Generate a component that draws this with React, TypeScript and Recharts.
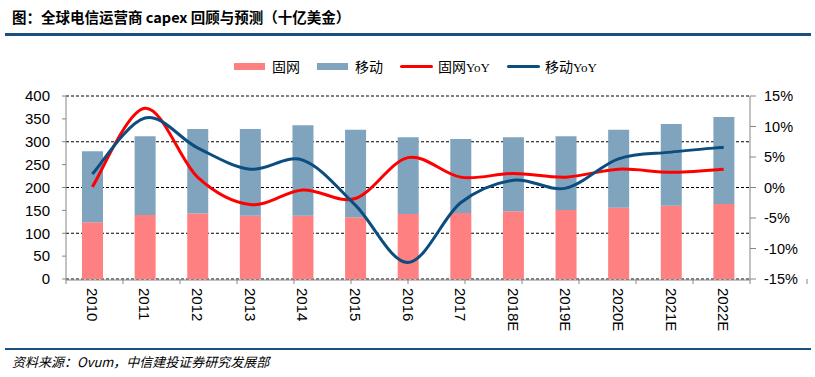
import React from "react";
import { ComposedChart, Bar, Line, XAxis, YAxis, CartesianGrid } from "recharts";

const years = ["2010", "2011", "2012", "2013", "2014", "2015", "2016", "2017", "2018E", "2019E", "2020E", "2021E", "2022E"];
const fixedCapex = [124, 140, 143, 138, 138, 135, 142, 144, 148, 151, 156, 160, 164];
const mobileCapex = [155, 172, 185, 190, 198, 191, 168, 162, 162, 161, 170, 179, 190];
const fixedYoY = [0.1, 13.0, 1.7, -2.8, -0.4, -1.8, 4.9, 1.7, 2.3, 1.7, 3.0, 2.5, 3.0];
const mobileYoY = [2.2, 11.4, 6.5, 3.0, 4.5, -2.9, -12.3, -2.5, 1.2, -0.1, 4.7, 5.8, 6.6];
const leftTicks = [0, 50, 100, 150, 200, 250, 300, 350, 400];
const rightTicks = [-15, -10, -5, 0, 5, 10, 15];
const edgeTicks = years.map((_, i) => i).concat([years.length]);

const data = years.map((y, i) => ({
  year: y,
  fixed: fixedCapex[i],
  mobile: mobileCapex[i],
  fixedYoY: fixedYoY[i],
  mobileYoY: mobileYoY[i],
}));

// Excel-like smoothed line (Catmull-Rom through points)
function smoothCurve(context: any) {
  let pts: [number, number][] = [];
  return {
    areaStart() {},
    areaEnd() {},
    lineStart() {
      pts = [];
    },
    lineEnd() {
      const n = pts.length;
      if (!n) return;
      context.moveTo(pts[0][0], pts[0][1]);
      for (let i = 0; i < n - 1; i++) {
        const p0 = pts[i - 1] || pts[i];
        const p1 = pts[i];
        const p2 = pts[i + 1];
        const p3 = pts[i + 2] || p2;
        context.bezierCurveTo(
          p1[0] + (p2[0] - p0[0]) / 6,
          p1[1] + (p2[1] - p0[1]) / 6,
          p2[0] - (p3[0] - p1[0]) / 6,
          p2[1] - (p3[1] - p1[1]) / 6,
          p2[0],
          p2[1]
        );
      }
    },
    point(x: number, y: number) {
      pts.push([+x, +y]);
    },
  };
}

const AXIS = "#868686";
const PINK = "#FF8080";
const STEEL = "#80A4BE";
const RED = "#FF0000";
const NAVY = "#0A4D7E";
const NUM_FONT = "'Liberation Sans', Arial, sans-serif";
const CJK = "'Noto Sans CJK SC', sans-serif";

const XTick = (props: any) => {
  const { x, y, payload } = props;
  return (
    <text
      x={x}
      y={y}
      transform={`rotate(90 ${x} ${y})`}
      textAnchor="start"
      dominantBaseline="central"
      fontSize={15}
      fontFamily={NUM_FONT}
      fill="#000"
    >
      {payload.value}
    </text>
  );
};

const NoLabel = () => <g />;

const LegendItem = ({ kind, color, label }: { kind: "bar" | "line"; color: string; label: React.ReactNode }) => (
  <div style={{ display: "flex", alignItems: "center", marginRight: 17 }}>
    <div
      style={{
        width: kind === "bar" ? 31 : 33,
        height: kind === "bar" ? 7 : 3,
        background: color,
        borderRadius: kind === "line" ? 2 : 0,
        marginRight: kind === "bar" ? 7 : 5,
      }}
    />
    <span style={{ fontSize: 14, fontFamily: CJK, color: "#000", whiteSpace: "nowrap" }}>{label}</span>
  </div>
);

const yoy = (t: string) => (
  <>
    {t}
    <span style={{ fontFamily: "'Liberation Serif', 'DejaVu Serif', serif", fontSize: 13 }}>YoY</span>
  </>
);

export default function App() {
  return (
    <div
      style={{
        position: "absolute",
        left: 0,
        top: 0,
        width: 815,
        height: 377,
        background: "#fff",
        overflow: "hidden",
      }}
    >
      <div
        style={{
          position: "absolute",
          left: 12,
          top: 7,
          fontSize: 14.5,
          lineHeight: "20px",
          fontWeight: 700,
          fontFamily: CJK,
          color: "#000",
          whiteSpace: "nowrap",
        }}
      >
        图：全球电信运营商 capex 回顾与预测（十亿美金）
      </div>
      <div style={{ position: "absolute", left: 5, top: 33, width: 806, height: 3, background: "#1B4F7F" }} />

      <div style={{ position: "absolute", left: 234, top: 56, height: 20, display: "flex", alignItems: "center" }}>
        <LegendItem kind="bar" color={PINK} label="固网" />
        <LegendItem kind="bar" color={STEEL} label="移动" />
        <LegendItem kind="line" color={RED} label={yoy("固网")} />
        <LegendItem kind="line" color={NAVY} label={yoy("移动")} />
      </div>

      <ComposedChart
        width={815}
        height={377}
        data={data}
        margin={{ top: 96, right: 10, bottom: 48, left: 10 }}
        style={{ position: "absolute", left: 0, top: 0 }}
      >
        <CartesianGrid yAxisId="left" xAxisId="main" vertical={false} stroke="#000" strokeDasharray="3 2" />
        <XAxis
          xAxisId="edges"
          type="number"
          domain={[0, years.length]}
          ticks={edgeTicks}
          allowDataOverflow
          height={1}
          axisLine={false}
          tick={<NoLabel />}
          tickLine={{ stroke: AXIS }}
          tickSize={5}
        />
        <XAxis
          xAxisId="main"
          dataKey="year"
          interval={0}
          height={49}
          axisLine={{ stroke: AXIS }}
          tickLine={false}
          tickSize={0}
          tickMargin={8}
          tick={<XTick />}
        />
        <YAxis
          yAxisId="left"
          domain={[0, 400]}
          ticks={leftTicks}
          width={56}
          axisLine={{ stroke: AXIS }}
          tickLine={{ stroke: AXIS }}
          tickSize={4}
          tickMargin={12}
          tick={{ fontSize: 15, fontFamily: NUM_FONT, fill: "#000" }}
        />
        <YAxis
          yAxisId="right"
          orientation="right"
          domain={[-15, 15]}
          ticks={rightTicks}
          width={55}
          axisLine={{ stroke: AXIS }}
          tickLine={{ stroke: AXIS }}
          tickSize={6}
          tickMargin={8}
          tickFormatter={(v: number) => `${v}%`}
          tick={{ fontSize: 14.5, fontFamily: NUM_FONT, fill: "#000" }}
        />
        <Bar xAxisId="main" yAxisId="left" dataKey="fixed" stackId="a" fill={PINK} barSize={21} isAnimationActive={false} />
        <Bar xAxisId="main" yAxisId="left" dataKey="mobile" stackId="a" fill={STEEL} barSize={21} isAnimationActive={false} />
        <Line
          xAxisId="main"
          yAxisId="right"
          dataKey="fixedYoY"
          type={smoothCurve as any}
          stroke={RED}
          strokeWidth={3}
          dot={false}
          activeDot={false}
          isAnimationActive={false}
        />
        <Line
          xAxisId="main"
          yAxisId="right"
          dataKey="mobileYoY"
          type={smoothCurve as any}
          stroke={NAVY}
          strokeWidth={3}
          dot={false}
          activeDot={false}
          isAnimationActive={false}
        />
      </ComposedChart>

      <div style={{ position: "absolute", left: 5, top: 348, width: 806, height: 2, background: "#1B4F7F" }} />
      <div
        style={{
          position: "absolute",
          left: 12,
          top: 354,
          fontSize: 13,
          lineHeight: "16px",
          fontStyle: "italic",
          fontFamily: CJK,
          color: "#000",
          whiteSpace: "nowrap",
        }}
      >
        资料来源：Ovum，中信建投证券研究发展部
      </div>
    </div>
  );
}
